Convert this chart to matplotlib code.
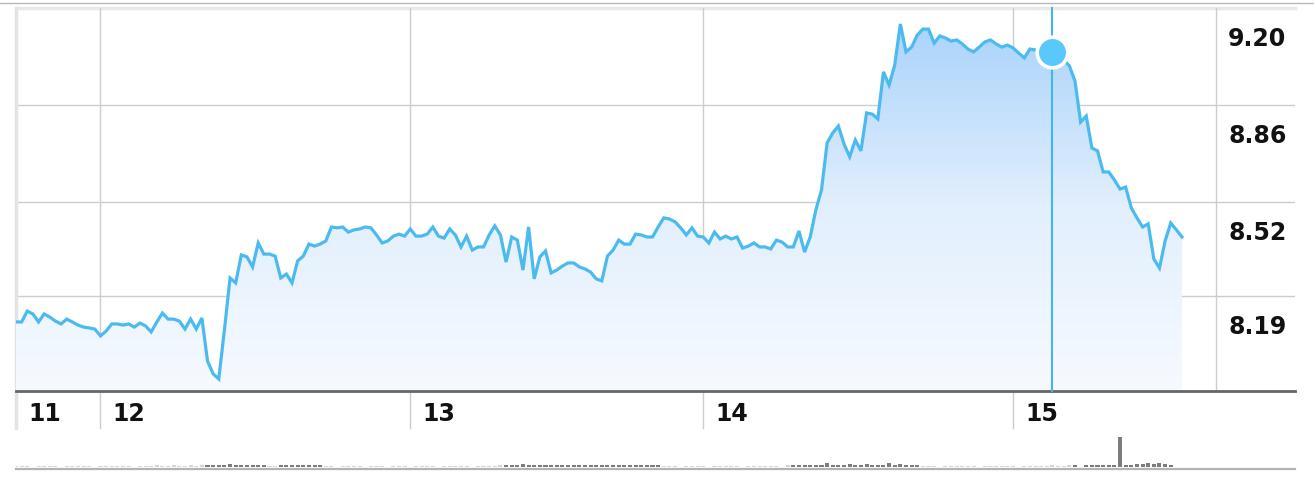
import numpy as np
import matplotlib
matplotlib.use("Agg")
import matplotlib.pyplot as plt
from matplotlib.colors import LinearSegmentedColormap
from matplotlib.lines import Line2D

# =========================
# DATA
# =========================

prices = [
    8.099, 8.099, 8.137, 8.127, 8.099, 8.127, 8.116, 8.102, 8.092, 8.109,
    8.099, 8.088, 8.081, 8.078, 8.074, 8.050, 8.067, 8.092, 8.092, 8.088,
    8.092, 8.081, 8.095, 8.085, 8.064, 8.099, 8.130, 8.109, 8.109, 8.102,
    8.074, 8.109, 8.074, 8.113, 7.962, 7.917, 7.899, 8.071, 8.253, 8.236,
    8.334, 8.327, 8.292, 8.376, 8.337, 8.337, 8.330, 8.253, 8.267, 8.236,
    8.313, 8.330, 8.372, 8.365, 8.372, 8.383, 8.432, 8.429, 8.432, 8.414,
    8.422, 8.425, 8.432, 8.429, 8.404, 8.376, 8.383, 8.400, 8.407, 8.400,
    8.425, 8.400, 8.400, 8.407, 8.432, 8.400, 8.393, 8.425, 8.404, 8.362,
    8.400, 8.351, 8.362, 8.362, 8.404, 8.436, 8.404, 8.309, 8.397, 8.386,
    8.281, 8.432, 8.250, 8.327, 8.348, 8.271, 8.281, 8.295, 8.306, 8.306,
    8.292, 8.285, 8.274, 8.250, 8.243, 8.330, 8.351, 8.386, 8.372, 8.372,
    8.407, 8.404, 8.397, 8.397, 8.432, 8.464, 8.460, 8.450, 8.429, 8.404,
    8.429, 8.400, 8.397, 8.376, 8.414, 8.390, 8.400, 8.390, 8.397, 8.358,
    8.365, 8.376, 8.362, 8.362, 8.355, 8.386, 8.379, 8.362, 8.362, 8.418,
    8.344, 8.397, 8.492, 8.562, 8.727, 8.762, 8.786, 8.723, 8.678, 8.737,
    8.699, 8.832, 8.828, 8.811, 8.976, 8.930, 9.000, 9.144, 9.046, 9.063,
    9.105, 9.126, 9.126, 9.077, 9.102, 9.095, 9.084, 9.088, 9.074, 9.056,
    9.046, 9.063, 9.081, 9.088, 9.074, 9.063, 9.070, 9.060, 9.042, 9.025,
    9.056, 9.053, 9.046, 9.042, 9.046, 9.035, 9.018, 8.997, 8.944, 8.800,
    8.821, 8.709, 8.699, 8.625, 8.625, 8.597, 8.565, 8.572, 8.499, 8.464,
    8.432, 8.443, 8.320, 8.288, 8.383, 8.446, 8.422, 8.397,
]

volume = [
    1.4, 1.5, 1.4, 0, 1.4, 1.5, 1.4, 1.4, 0, 1.5,
    1.4, 1.4, 1.5, 1.4, 0, 1.4, 1.5, 1.4, 1.4, 1.5,
    1.4, 0, 1.4, 1.5, 1.4, 1.6, 1.5, 1.4, 1.6, 1.5,
    1.4, 1.6, 1.5, 1.6, 2.2, 2.3, 2.4, 2.3, 3.4, 2.3,
    2.2, 2.3, 2.2, 2.4, 2.2, 1.5, 1.4, 2.0, 1.9, 2.1,
    2.0, 1.9, 2.0, 2.1, 1.9, 1.5, 1.4, 0, 1.4, 1.5,
    1.4, 1.4, 0, 1.5, 1.4, 1.4, 0, 1.4, 1.5, 1.4,
    0, 1.4, 1.5, 1.4, 1.4, 0, 1.5, 1.4, 1.4, 1.5,
    1.4, 0, 1.5, 1.4, 1.5, 1.4, 1.6, 2.3, 2.2, 2.4,
    3.4, 2.3, 2.2, 2.4, 2.3, 2.2, 2.3, 2.4, 2.2, 2.3,
    2.2, 2.4, 2.3, 2.2, 2.3, 2.4, 2.2, 2.3, 2.2, 2.3,
    2.2, 2.4, 2.3, 2.2, 2.3, 1.5, 1.4, 1.4, 0, 1.5,
    1.4, 1.4, 1.5, 0, 1.4, 1.5, 1.4, 1.4, 1.5, 0,
    1.4, 1.5, 1.4, 1.4, 1.5, 1.4, 0, 1.6, 2.2, 2.3,
    2.4, 2.3, 2.2, 2.3, 4.4, 2.3, 2.2, 2.4, 2.9, 2.3,
    2.2, 2.9, 2.3, 2.2, 2.4, 4.2, 2.3, 2.9, 2.2, 2.3,
    2.2, 1.4, 1.5, 1.4, 0, 1.4, 1.5, 1.4, 1.4, 1.5,
    1.4, 0, 1.4, 1.5, 1.4, 1.4, 1.5, 1.4, 0, 1.5,
    1.4, 1.4, 1.5, 1.4, 1.6, 1.5, 1.4, 1.6, 2.2, 0,
    2.3, 2.3, 2.4, 2.3, 2.2, 2.4, 30.0, 2.3, 2.4, 2.6,
    3.5, 3.6, 3.0, 3.6, 3.4, 2.4, 0, 0,
]

day_labels = ["11", "12", "13", "14", "15"]
day_starts = [0, 15, 70, 122, 177]

price_ticks = [8.19, 8.52, 8.86, 9.20]

cursor_idx = 184

# =========================
# LAYOUT (pixels)
# =========================

W, H = 1314, 488
px_left, px_right = 16, 1295
px_top, px_axis = 8, 391
step = 1166 / 207           # pixels per sample
y_per_px = 0.003507
y_top = 9.20
y_bot = y_top - (px_axis - px_top) * y_per_px
x_max = (px_right - px_left) / step
divider_idx = (1216 - px_left) / step

line_col = "#4bbbef"
grid_col = "#cdcdcd"

fig = plt.figure(figsize=(W / 100, H / 100), dpi=100)
fig.patch.set_facecolor("white")

ax = fig.add_axes([px_left / W, (H - px_axis) / H,
                   (px_right - px_left) / W, (px_axis - px_top) / H])
ax.set_xlim(0, x_max)
ax.set_ylim(y_bot, y_top)
ax.axis("off")

x = np.arange(len(prices))
p = np.array(prices)

# gradient fill under the line
cmap = LinearSegmentedColormap.from_list("fill", ["#f6faff", "#e2effd", "#a9d3fb"])
grad = np.linspace(0, 1, 256).reshape(-1, 1)
img = ax.imshow(grad, cmap=cmap, origin="lower", aspect="auto",
                extent=[0, x[-1], y_bot, 9.15], zorder=1)
poly = ax.fill_between(x, p, y_bot, color="none", lw=0)
img.set_clip_path(poly.get_paths()[0], transform=ax.transData)

# horizontal grid
for v in price_ticks[:-1]:
    ax.axhline(v, color=grid_col, lw=1, zorder=0.5)
ax.axhline(y_top, color="#e9e9e9", lw=2.5, zorder=0.5, clip_on=False)

# vertical grid (day boundaries extend under the labels)
below = 37 / (px_axis - px_top)
for d in day_starts[1:]:
    ax.axvline(d, ymin=-below, ymax=1, color=grid_col, lw=1, clip_on=False, zorder=0.5)
ax.axvline(0, ymin=-below, ymax=1, color="#e4e4e4", lw=2.5, clip_on=False, zorder=0.5)
ax.axvline(divider_idx, color=grid_col, lw=1, zorder=0.5)

# bottom axis line
ax.axhline(y_bot, color="#666666", lw=2, clip_on=False, zorder=3)

# price line
ax.plot(x, p, color=line_col, lw=2.3, solid_joinstyle="miter", zorder=4)

# cursor
ax.axvline(cursor_idx, color="#45b4ea", lw=1.5, zorder=5, clip_on=False)
ax.plot([cursor_idx], [prices[cursor_idx]], "o", ms=22, mfc="#5ac8fa",
        mec="white", mew=2.6, zorder=6)

# day labels
for d, lab in zip(day_starts, day_labels):
    ax.annotate(lab, xy=(d, 0), xycoords=("data", "axes fraction"),
                xytext=(12, -30), textcoords="offset pixels",
                ha="left", va="baseline", fontsize=17, fontweight="bold",
                color="#111111", family="DejaVu Sans")

# price labels
for v in price_ticks:
    ax.annotate(f"{v:.2f}", xy=(1228, v), xycoords=("figure pixels", "data"),
                xytext=(0, -38), textcoords="offset pixels",
                ha="left", va="baseline", fontsize=17, fontweight="bold",
                color="#111111", family="DejaVu Sans")

# volume strip (quiet bars drawn lighter)
vax = fig.add_axes([px_left / W, (H - 467) / H, (px_right - px_left) / W, 30 / H])
vax.set_xlim(0, x_max)
vax.set_ylim(0, 30)
vax.axis("off")
vol_cols = ["#d5d5d5" if v < 1.8 else "#7c7c7c" for v in volume]
vax.bar(x, volume, width=0.72, color=vol_cols, lw=0)

# frame lines
fig.add_artist(Line2D([0, 1], [1 - 2.5 / H, 1 - 2.5 / H], color="#b9b9b9", lw=1))
fig.add_artist(Line2D([px_left / W, px_right / W], [1 - 468.5 / H, 1 - 468.5 / H],
                      color="#b3b3b3", lw=1.6))

fig.savefig("out.png", dpi=100, facecolor="white")
